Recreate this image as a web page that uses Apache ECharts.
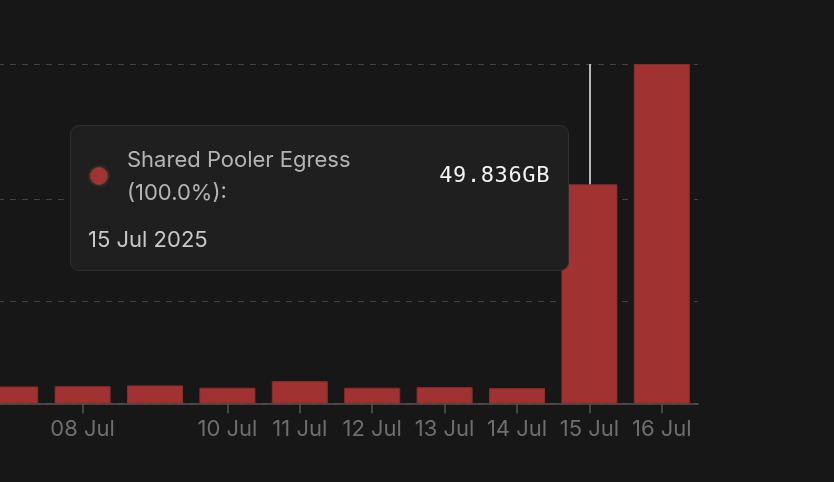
<!DOCTYPE html>
<html>
<head>
<meta charset="utf-8">
<script src="https://cdn.jsdelivr.net/npm/echarts@6/dist/echarts.min.js"></script>
<style>
html,body{margin:0;padding:0;background:#171717;overflow:hidden;width:834px;height:482px;}
#c{position:absolute;left:-26px;top:0;width:860px;height:482px;}
</style>
</head>
<body>
<div id="c"></div>
<script>
// ---- data ----
const categories = ['07 Jul','08 Jul','09 Jul','10 Jul','11 Jul','12 Jul','13 Jul','14 Jul','15 Jul','16 Jul'];
const egressGB   = [3.87, 3.94, 4.10, 3.58, 5.08, 3.58, 3.71, 3.49, 49.836, 77.19];
const shownTickLabels = ['08 Jul','10 Jul','11 Jul','12 Jul','13 Jul','14 Jul','15 Jul','16 Jul'];
const gridValues = [0, 23.25, 46.5, 77.19];
const yMax = 77.19;
const seriesName = 'Shared Pooler Egress';
const year = '2025';
const hoverIndex = 8;

const chart = echarts.init(document.getElementById('c'), null, {renderer:'canvas'});
const showIdx = (i) => shownTickLabels.indexOf(categories[i]) >= 0;

const option = {
  backgroundColor: '#171717',
  animation: false,
  grid: {left: 0, right: 136, top: 64, bottom: 78.5, containLabel: false},
  xAxis: {
    type: 'category',
    data: categories,
    axisLine: {show: true, lineStyle: {color: '#555555', width: 1.5}},
    axisTick: {show: true, alignWithLabel: true, length: 10, lineStyle: {color: '#555555', width: 1.5}, interval: (i) => showIdx(i)},
    axisLabel: {interval: (i) => showIdx(i), color: '#6e6e6e', fontFamily: 'Inter', fontSize: 22, margin: 15}
  },
  yAxis: {
    type: 'value',
    min: 0,
    max: yMax,
    axisLine: {show: false},
    axisLabel: {show: false, customValues: gridValues},
    axisTick: {show: false, customValues: gridValues},
    splitLine: {show: true, lineStyle: {color: '#424242', type: [6, 6], width: 1}}
  },
  tooltip: {
    trigger: 'item',
    alwaysShowContent: true,
    triggerOn: 'none',
    transitionDuration: 0,
    position: [96, 125],
    padding: 0,
    backgroundColor: '#1f1f1f',
    borderColor: '#2f2f2f',
    borderWidth: 1,
    extraCssText: 'box-shadow:none;border-radius:9px;',
    formatter: (p) => {
      const total = egressGB[p.dataIndex];
      const pct = (p.value / total * 100).toFixed(1);
      return '<div style="width:462px;padding:17px 18px 15px 17px;font-family:Inter,sans-serif;">' +
        '<div style="display:flex;justify-content:space-between;align-items:center;">' +
          '<div style="display:flex;align-items:center;">' +
            '<span style="display:inline-block;width:18px;height:18px;border-radius:50%;background:#a03232;border:2px solid #2b2b2b;margin-right:17px;"></span>' +
            '<div style="font-size:22px;line-height:33px;color:#b4b4b4;">' + p.seriesName + '<br>(' + pct + '%):</div>' +
          '</div>' +
          '<div style="font-family:\'DejaVu Sans Mono\',monospace;font-size:22px;letter-spacing:0.6px;color:#f2f2f2;margin-top:-4px;">' + p.value.toFixed(3) + 'GB</div>' +
        '</div>' +
        '<div style="font-size:22px;line-height:32px;color:#c8c8c8;margin-top:14px;">' + p.name + ' ' + year + '</div>' +
      '</div>';
    }
  },
  series: [{
    name: seriesName,
    type: 'bar',
    data: egressGB,
    barWidth: 56,
    itemStyle: {color: '#a03232', borderColor: '#8e2c2c', borderWidth: 1},
    emphasis: {disabled: true},
    markLine: {
      silent: true,
      symbol: 'none',
      label: {show: false},
      lineStyle: {color: '#b8b8b8', type: 'solid', width: 2},
      data: [[{coord: [categories[hoverIndex], egressGB[hoverIndex]]}, {coord: [categories[hoverIndex], yMax]}]]
    }
  }]
};
chart.setOption(option);
chart.dispatchAction({type: 'showTip', seriesIndex: 0, dataIndex: hoverIndex});
</script>
</body>
</html>
